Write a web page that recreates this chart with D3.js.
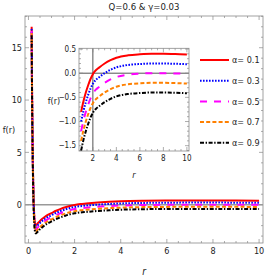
<!DOCTYPE html>
<html>
<head>
<meta charset="utf-8">
<script src="https://cdn.jsdelivr.net/npm/d3@7"></script>
<style>
  body { margin: 0; background: #fff; }
  text { font-family: "Liberation Sans Narrow", "DejaVu Sans Condensed", "Liberation Sans", sans-serif; fill: #222; }
</style>
</head>
<body>
<div id="chart"></div>
<script>
// r grid shared by all series
var rValues = [0.138, 0.15, 0.16, 0.17, 0.18, 0.19, 0.2, 0.21, 0.22, 0.24, 0.26, 0.28, 0.3, 0.32, 0.35, 0.4,
    0.5, 0.6, 0.7, 0.8, 0.9, 1.0, 1.2, 1.4, 1.6, 1.8, 2.0, 2.25, 2.5, 3, 3.5, 4, 5, 6, 7, 8, 9, 10];

var fAlpha01 = [17.0, 12.8, 10.0, 7.8, 5.9, 4.3, 2.9, 1.8, 0.85, -0.5, -1.3, -1.72, -1.9, -1.95, -1.9, -1.78,
    -1.55, -1.35, -1.18, -1.03, -0.91, -0.8, -0.58, -0.4, -0.25, -0.12, -0.02, 0.06, 0.11, 0.2, 0.27, 0.32, 0.37, 0.39, 0.4, 0.4, 0.395, 0.385];
var fAlpha03 = [16.8, 12.6, 9.8, 7.6, 5.7, 4.1, 2.7, 1.6, 0.65, -0.7, -1.5, -1.92, -2.1, -2.15, -2.1, -1.98,
    -1.75, -1.55, -1.38, -1.23, -1.11, -1.0, -0.78, -0.6, -0.45, -0.32, -0.22, -0.14, -0.09, 0.0, 0.07, 0.12, 0.17, 0.19, 0.2, 0.2, 0.195, 0.185];
var fAlpha05 = [16.6, 12.4, 9.6, 7.4, 5.5, 3.9, 2.5, 1.4, 0.45, -0.9, -1.7, -2.12, -2.3, -2.35, -2.3, -2.18,
    -1.95, -1.75, -1.58, -1.43, -1.31, -1.2, -0.98, -0.8, -0.65, -0.52, -0.42, -0.34, -0.29, -0.2, -0.13, -0.08, -0.03, -0.01, 0.0, 0.0, -0.005, -0.015];
var fAlpha07 = [16.4, 12.2, 9.4, 7.2, 5.3, 3.7, 2.3, 1.2, 0.25, -1.1, -1.9, -2.32, -2.5, -2.55, -2.5, -2.38,
    -2.15, -1.95, -1.78, -1.63, -1.51, -1.4, -1.18, -1.0, -0.85, -0.72, -0.62, -0.54, -0.49, -0.4, -0.33, -0.28, -0.23, -0.21, -0.2, -0.2, -0.205, -0.215];
var fAlpha09 = [16.2, 12.0, 9.2, 7.0, 5.1, 3.5, 2.1, 1.0, 0.05, -1.3, -2.1, -2.52, -2.7, -2.75, -2.7, -2.58,
    -2.35, -2.15, -1.98, -1.83, -1.71, -1.6, -1.38, -1.2, -1.05, -0.92, -0.82, -0.74, -0.69, -0.6, -0.53, -0.48, -0.43, -0.41, -0.4, -0.4, -0.405, -0.415];

var seriesLabels = ['α= 0.1', 'α= 0.3', 'α= 0.5', 'α= 0.7', 'α= 0.9'];
var seriesValues = [fAlpha01, fAlpha03, fAlpha05, fAlpha07, fAlpha09];

var mainXTicks = [0, 2, 4, 6, 8, 10];
var mainYTicks = [0, 5, 10, 15];
var insetXTicks = [2, 4, 6, 8, 10];
var insetYTicks = [0.5, 0.0, -0.5, -1.0, -1.5];

var colors = ['#ff0000', '#0000ff', '#ff00ff', '#ff8000', '#000000'];
var dashes = [null, '1.6,1.4', '7,7', '4,2.2', '4,1.6,1.4,1.6'];

var chart_width = 266;
var chart_height = 280;

var svg = d3.select('#chart')
    .append('svg')
    .attr('width', chart_width)
    .attr('height', chart_height);

// Escalas principais
var x_scale = d3.scaleLinear().domain([-0.15, 10.17]).range([25, 263]);
var y_scale = d3.scaleLinear().domain([-3.66, 18.03]).range([243, 16]);

// Escalas do inset
var xi_scale = d3.scaleLinear().domain([0.82, 10.18]).range([79, 189]);
var yi_scale = d3.scaleLinear().domain([-1.61, 0.515]).range([151, 48.3]);

var defs = svg.append('defs');
defs.append('clipPath').attr('id', 'clipMain').append('rect')
    .attr('x', 25).attr('y', 16).attr('width', 238).attr('height', 227);
defs.append('clipPath').attr('id', 'clipInset').append('rect')
    .attr('x', 79).attr('y', 48.3).attr('width', 110).attr('height', 102.7);

function drawFrame(g, xs, ys, xMajor, xMinorStep, yMajor, yMinorStep, fontSize, fmtY) {
    var x0 = xs.range()[0], x1 = xs.range()[1];
    var y0 = ys.range()[0], y1 = ys.range()[1];
    g.append('rect')
        .attr('x', x0).attr('y', y1)
        .attr('width', x1 - x0).attr('height', y0 - y1)
        .attr('fill', 'none').attr('stroke', '#8a8a8a').attr('stroke-width', 0.8);

    var xd = xs.domain(), yd = ys.domain();
    var xMinor = d3.range(Math.ceil(xd[0] / xMinorStep) * xMinorStep, xd[1], xMinorStep);
    var yMinor = d3.range(Math.ceil(yd[0] / yMinorStep) * yMinorStep, yd[1], yMinorStep);

    var ticks = g.append('g').attr('stroke', '#8a8a8a').attr('stroke-width', 0.7);
    xMinor.forEach(function (v) {
        var isMajor = xMajor.some(function (m) { return Math.abs(m - v) < 1e-6; });
        var len = isMajor ? 4 : 2;
        ticks.append('line').attr('x1', xs(v)).attr('x2', xs(v)).attr('y1', y0).attr('y2', y0 - len);
        ticks.append('line').attr('x1', xs(v)).attr('x2', xs(v)).attr('y1', y1).attr('y2', y1 + len);
    });
    yMinor.forEach(function (v) {
        var isMajor = yMajor.some(function (m) { return Math.abs(m - v) < 1e-6; });
        var len = isMajor ? 4 : 2;
        ticks.append('line').attr('y1', ys(v)).attr('y2', ys(v)).attr('x1', x0).attr('x2', x0 + len);
        ticks.append('line').attr('y1', ys(v)).attr('y2', ys(v)).attr('x1', x1).attr('x2', x1 - len);
    });

    g.selectAll('text.xt')
        .data(xMajor)
        .enter()
        .append('text')
        .attr('class', 'xt')
        .attr('x', function (d) { return xs(d); })
        .attr('y', y0 + fontSize + 2)
        .attr('text-anchor', 'middle')
        .style('font-size', fontSize + 'px')
        .text(function (d) { return d; });

    g.selectAll('text.yt')
        .data(yMajor)
        .enter()
        .append('text')
        .attr('class', 'yt')
        .attr('x', x0 - 3)
        .attr('y', function (d) { return ys(d); })
        .attr('dy', '0.35em')
        .attr('text-anchor', 'end')
        .style('font-size', fontSize + 'px')
        .text(fmtY);
}

// Grafico principal
var main = svg.append('g');
drawFrame(main, x_scale, y_scale, mainXTicks, 0.5, mainYTicks, 1, 9, function (d) { return d; });

main.append('line')
    .attr('x1', 25).attr('x2', 263)
    .attr('y1', y_scale(0)).attr('y2', y_scale(0))
    .attr('stroke', '#999').attr('stroke-width', 1.4);

var line_main = d3.line()
    .x(function (d) { return x_scale(d[0]); })
    .y(function (d) { return y_scale(d[1]); })
    .curve(d3.curveMonotoneX);

var mainCurves = main.append('g').attr('clip-path', 'url(#clipMain)');
seriesValues.forEach(function (vals, i) {
    var pts = rValues.map(function (r, k) { return [r, vals[k]]; });
    mainCurves.append('path')
        .attr('d', line_main(pts))
        .attr('fill', 'none')
        .attr('stroke', colors[i])
        .attr('stroke-width', 2)
        .attr('stroke-dasharray', dashes[i]);
});

svg.append('text').attr('x', 144).attr('y', 10).attr('text-anchor', 'middle')
    .style('font-size', '9.5px').text('Q=0.6 & γ=0.03');
svg.append('text').attr('x', 9).attr('y', 133).attr('text-anchor', 'middle')
    .style('font-size', '9px').text('f(r)');
svg.append('text').attr('x', 144).attr('y', 275).attr('text-anchor', 'middle')
    .style('font-size', '10px').style('font-style', 'italic').text('r');

// Inset
var inset = svg.append('g');
inset.append('rect')
    .attr('x', 79).attr('y', 48.3).attr('width', 110).attr('height', 102.7)
    .attr('fill', '#fff');

inset.append('line')
    .attr('x1', 79).attr('x2', 189)
    .attr('y1', yi_scale(0)).attr('y2', yi_scale(0))
    .attr('stroke', '#555').attr('stroke-width', 1);
inset.append('line')
    .attr('x1', xi_scale(2)).attr('x2', xi_scale(2))
    .attr('y1', 48.3).attr('y2', 151)
    .attr('stroke', '#555').attr('stroke-width', 1);

drawFrame(inset, xi_scale, yi_scale, insetXTicks, 0.5, insetYTicks, 0.1, 8, function (d) { return d3.format('.1f')(d).replace('-', '-'); });

var line_inset = d3.line()
    .x(function (d) { return xi_scale(d[0]); })
    .y(function (d) { return yi_scale(d[1]); })
    .curve(d3.curveMonotoneX);

var insetCurves = inset.append('g').attr('clip-path', 'url(#clipInset)');
seriesValues.forEach(function (vals, i) {
    var pts = rValues.map(function (r, k) { return [r, vals[k]]; })
        .filter(function (d) { return d[0] >= 1; });
    insetCurves.append('path')
        .attr('d', line_inset(pts))
        .attr('fill', 'none')
        .attr('stroke', colors[i])
        .attr('stroke-width', 2)
        .attr('stroke-dasharray', dashes[i]);
});

svg.append('text').attr('x', 54).attr('y', 104).attr('text-anchor', 'middle')
    .style('font-size', '9px').text('f(r)');
svg.append('text').attr('x', 134).attr('y', 178).attr('text-anchor', 'middle')
    .style('font-size', '9px').style('font-style', 'italic').text('r');

// Legenda
var legend = svg.selectAll('g.leg')
    .data(seriesLabels)
    .enter()
    .append('g')
    .attr('class', 'leg')
    .attr('transform', function (d, i) { return 'translate(200,' + (60 + i * 20.7) + ')'; });

legend.append('line')
    .attr('x1', 0).attr('x2', 29)
    .attr('stroke', function (d, i) { return colors[i]; })
    .attr('stroke-width', 2)
    .attr('stroke-dasharray', function (d, i) { return dashes[i]; });

legend.append('text')
    .attr('x', 32)
    .attr('dy', '0.35em')
    .style('font-size', '9px')
    .text(function (d) { return d; });
</script>
</body>
</html>
